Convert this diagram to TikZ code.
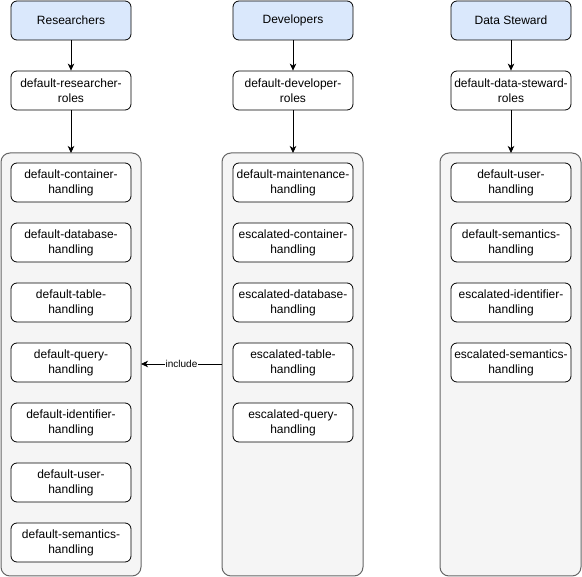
\documentclass[tikz,border=0pt]{standalone}
\usepackage{fontspec}
\setmainfont{Liberation Sans}
\usetikzlibrary{arrows.meta}
\definecolor{headfill}{HTML}{DAE8FC}
\definecolor{contfill}{HTML}{F5F5F5}
\definecolor{contdraw}{HTML}{666666}
\begin{document}
\begin{tikzpicture}[x=1pt,y=-1pt,
  box/.style={draw=black,fill=white,rounded corners=6pt,minimum width=120pt,minimum height=39pt,align=center,inner sep=0pt,font=\fontsize{12}{15}\selectfont,line width=0.8pt},
  head/.style={box,fill=headfill},
  cont/.style={draw=contdraw,fill=contfill,rounded corners=9pt,line width=1pt},
  arr/.style={-{Stealth[length=7pt,width=6.5pt,inset=2pt]},line width=0.8pt}]
\useasboundingbox (0,0) rectangle (582,577);
% containers
\draw[cont] (1,153) rectangle (141,576);
\draw[cont] (222,153) rectangle (363,576);
\draw[cont] (440,153) rectangle (581,576);
\coordinate (c1) at (71,153);
\coordinate (c2) at (293,153);
\coordinate (c3) at (511,153);
\coordinate (c1r) at (141,364);
\coordinate (c2l) at (222,364);
% heads
\node[head] (r) at (71,20.5) {Researchers};
\node[head] (d) at (293,20.5) {Developers};
\node[head] (s) at (511,20.5) {Data Steward};
% roles
\node[box] (rr) at (71,90.5) {default-researcher-\\roles};
\node[box] (dr) at (293,90.5) {default-developer-\\roles};
\node[box] (sr) at (511,90.5) {default-data-steward-\\roles};
% arrows
\draw[arr] (r) -- (rr);
\draw[arr] (d) -- (dr);
\draw[arr] (s) -- (sr);
\draw[arr] (rr.south) -- (c1);
\draw[arr] (dr.south) -- (c2);
\draw[arr] (sr.south) -- (c3);
% left inner
\node[box] (l1) at (71,182.5) {default-container-\\handling};
\node[box] (l2) at (71,242.5) {default-database-\\handling};
\node[box] (l3) at (71,302.5) {default-table-\\handling};
\node[box] (l4) at (71,362.5) {default-query-\\handling};
\node[box] (l5) at (71,422.5) {default-identifier-\\handling};
\node[box] (l6) at (71,482.5) {default-user-\\handling};
\node[box] (l7) at (71,542.5) {default-semantics-\\handling};
% middle inner
\node[box] (m1) at (293,182.5) {default-maintenance-\\handling};
\node[box] (m2) at (293,242.5) {escalated-container-\\handling};
\node[box] (m3) at (293,302.5) {escalated-database-\\handling};
\node[box] (m4) at (293,362.5) {escalated-table-\\handling};
\node[box] (m5) at (293,422.5) {escalated-query-\\handling};
% right inner
\node[box] (s1) at (511,182.5) {default-user-\\handling};
\node[box] (s2) at (511,242.5) {default-semantics-\\handling};
\node[box] (s3) at (511,302.5) {escalated-identifier-\\handling};
\node[box] (s4) at (511,362.5) {escalated-semantics-\\handling};
% include
\draw[arr] (c2l) -- node[fill=white,inner sep=1pt,font=\fontsize{10}{12}\selectfont] (inc) {include} (c1r);
\end{tikzpicture}
\end{document}
